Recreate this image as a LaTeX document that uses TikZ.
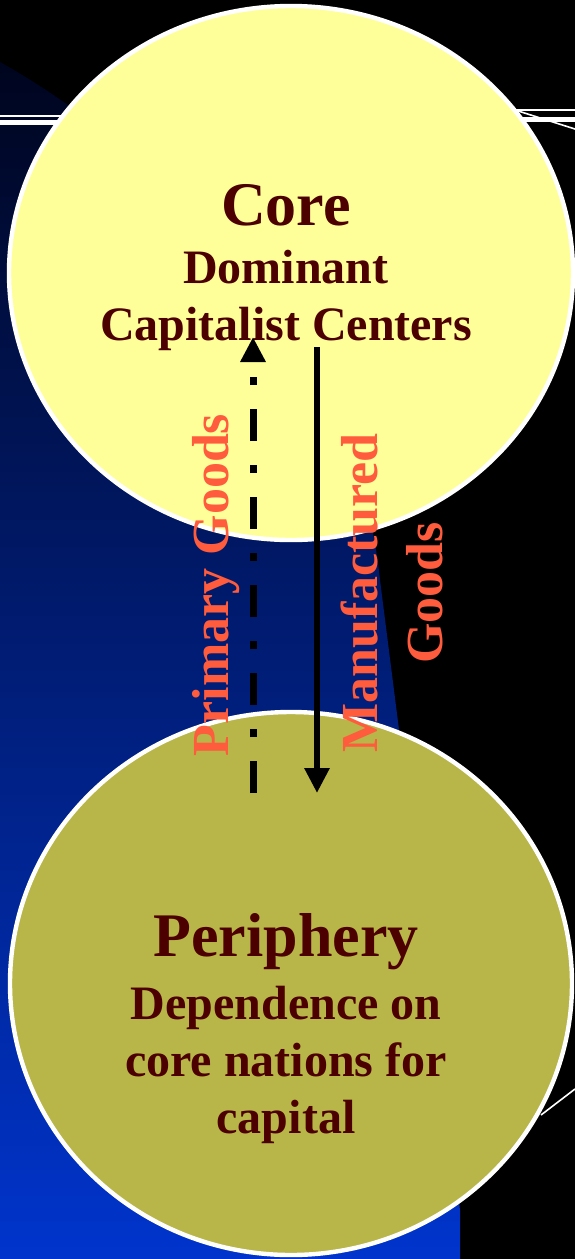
\documentclass[tikz,border=0pt]{standalone}
\usepackage{fontspec}
\setmainfont{Liberation Serif}
\usetikzlibrary{shapes.geometric,arrows.meta}
\definecolor{coreyellow}{RGB}{255,255,153}
\definecolor{perolive}{RGB}{184,182,72}
\definecolor{darkmaroon}{RGB}{77,0,0}
\definecolor{goodsred}{RGB}{255,91,61}
\definecolor{navytop}{RGB}{0,5,30}
\definecolor{navymid}{RGB}{0,38,140}
\definecolor{navybot}{RGB}{0,52,204}
\tikzset{
  bubble/.style={ellipse,draw=white,line width=2.2pt,inner sep=0pt},
  bigname/.style={font=\bfseries\fontsize{31}{34}\selectfont,text=darkmaroon},
  smallname/.style={font=\bfseries\fontsize{24}{28.5}\selectfont,text=darkmaroon,align=center},
  goodslabel/.style={font=\bfseries\fontsize{26}{32.5}\selectfont,text=goodsred,align=center,rotate=90},
  tradearrow/.style={-{Triangle[width=12pt,length=12.5pt]}}
}
\begin{document}
\begin{tikzpicture}[x=.5pt,y=-.5pt]
\fill[black] (0,0) rectangle (575,1259);
\useasboundingbox (0,0) rectangle (575,1259);
% blue backdrop
\shade[top color=navytop,middle color=navymid,bottom color=navybot]
  (0,62) .. controls (140,140) and (355,330) .. (380,580) -- (460,1210) -- (460,1259) -- (0,1259) -- cycle;
% white rules behind the core
\draw[white,line width=1pt] (0,116) -- (120,116);
\draw[white,line width=2.5pt] (0,122.5) -- (120,122.5);
\draw[white,line width=1pt] (500,110) -- (575,110);
\draw[white,line width=2.5pt] (500,119.5) -- (575,119.5);
\draw[white,line width=.8pt] (515,110) -- (575,129);
\draw[white,line width=.8pt] (541,1115) -- (575,1089);
% the two bubbles
\node[bubble,fill=coreyellow,minimum width=282pt,minimum height=267pt] (core) at (291,273) {};
\node[bubble,fill=perolive,minimum width=281pt,minimum height=271.5pt] (periphery) at (291,983.5) {};
\node[bigname] (coretitle) at (286,205) {Core};
\node[smallname] (coretext) at (286,300) {Dominant\\Capitalist Centers};
\node[bigname] (pertitle) at (286,942) {Periphery};
\node[smallname] (pertext) at (286,1065) {Dependence on\\core nations for\\capital};
% flows
\node[goodslabel] (primary) at (216,585) {Primary Goods};
\node[goodslabel] (manuf) at (392,593) {Manufactured\\Goods};
\coordinate (primfrom) at (253,793);
\coordinate (primto) at (253,337);
\coordinate (manfrom) at (317,347);
\coordinate (manto) at (317,793);
\draw[tradearrow,line width=3.5pt,dash pattern=on 16pt off 12pt on 4pt off 12pt] (primfrom) -- (primto);
\draw[tradearrow,line width=3pt] (manfrom) -- (manto);
\end{tikzpicture}
\end{document}
